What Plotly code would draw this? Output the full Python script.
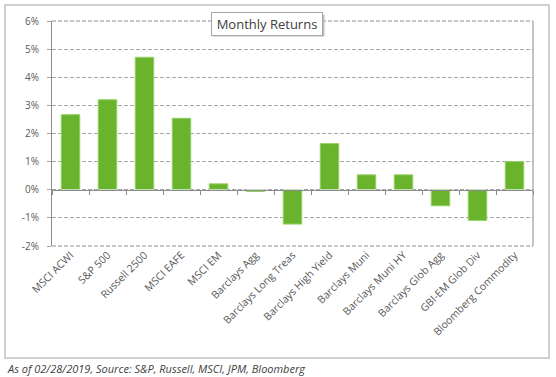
import plotly.graph_objects as go

categories = ["MSCI ACWI", "S&P 500", "Russell 2500", "MSCI EAFE", "MSCI EM",
              "Barclays Agg", "Barclays Long Treas", "Barclays High Yield",
              "Barclays Muni", "Barclays Muni HY", "Barclays Glob Agg",
              "GBI-EM Glob Div", "Bloomberg Commodity"]
returns_pct = [2.67, 3.20, 4.71, 2.54, 0.21, -0.06, -1.22, 1.64, 0.53, 0.53, -0.57, -1.09, 1.00]
y_ticks = [-2, -1, 0, 1, 2, 3, 4, 5, 6]
y_tick_labels = [f"{v}%" for v in y_ticks]

W, H = 556, 377
ml, mr, mt, mb = 52, 23, 21, 131
ymin, ymax = -2, 6
dom_w = W - ml - mr
dom_h = H - mt - mb
zero_pos = (0 - ymin) / (ymax - ymin)


def px_x(x):
    return (x - ml) / dom_w


def px_y(y):
    return (H - mb - y) / dom_h


fig = go.Figure()
fig.add_trace(go.Bar(
    x=categories, y=returns_pct,
    marker=dict(color="#6AB42D", line=dict(color="#93D164", width=1)),
    xaxis="x", yaxis="y", hoverinfo="x+y",
))
fig.add_trace(go.Bar(x=categories, y=[0] * len(categories), xaxis="x2", yaxis="y",
                     marker=dict(color="rgba(0,0,0,0)"), showlegend=False, hoverinfo="skip"))

txt = "#595959"
grid = "#A6A6A6"
fig.update_layout(
    width=W, height=H,
    margin=dict(l=ml, r=mr, t=mt, b=mb),
    paper_bgcolor="white", plot_bgcolor="white",
    showlegend=False, bargap=0.5, barmode="overlay",
    font=dict(family="Open Sans", size=10, color=txt),
    xaxis=dict(type="category", tickangle=-45, showgrid=False, showline=False,
               ticks="", tickfont=dict(size=10.5, color=txt), automargin=False,
               range=[-0.5, len(categories) - 0.5]),
    xaxis2=dict(type="category", overlaying="x", anchor="free", position=zero_pos,
                showline=True, linecolor="#8C8C8C", linewidth=1,
                ticks="outside", ticklen=4, tickcolor="#8C8C8C", tickson="boundaries",
                showticklabels=False, showgrid=False,
                range=[-0.5, len(categories) - 0.5]),
    yaxis=dict(range=[ymin, ymax], tickvals=y_ticks, ticktext=y_tick_labels,
               showgrid=True, gridcolor=grid, griddash="4px,2px", gridwidth=1,
               zeroline=False, showline=True, linecolor="#8C8C8C", linewidth=1,
               ticks="outside", ticklen=4, tickcolor=grid,
               ticklabelstandoff=6, tickfont=dict(size=10, color=txt),
               automargin=False),
)

# plot-area border
fig.add_shape(type="line", xref="x domain", yref="y domain", x0=1, x1=1, y0=0, y1=1,
              line=dict(color="#8C8C8C", width=1))
fig.add_shape(type="line", xref="x domain", yref="y domain", x0=0, x1=1, y0=1, y1=1,
              line=dict(color="#8C8C8C", width=1, dash="4px,2px"))
fig.add_shape(type="line", xref="x domain", yref="y domain", x0=0, x1=1, y0=0, y1=0,
              line=dict(color="#8C8C8C", width=1, dash="4px,2px"))

# outer chart frame
fig.add_shape(type="rect", xref="paper", yref="paper",
              x0=px_x(5), x1=px_x(549), y0=px_y(358), y1=px_y(5),
              line=dict(color="#D0D0D0", width=2), fillcolor="rgba(0,0,0,0)", layer="below")

# title box shadow + box
fig.add_shape(type="rect", xref="paper", yref="paper",
              x0=px_x(213), x1=px_x(324), y0=px_y(36), y1=px_y(15),
              line=dict(color="#BFBFBF", width=1), fillcolor="#BFBFBF", layer="above")
fig.add_annotation(xref="paper", yref="paper", x=px_x(266.5), y=px_y(24),
                   xanchor="center", yanchor="middle",
                   text="Monthly Returns", showarrow=False, width=106, height=18,
                   font=dict(family="Open Sans", size=13, color="#404040"),
                   bgcolor="white", bordercolor="#A6A6A6", borderwidth=1, borderpad=2)

# footer
fig.add_annotation(xref="paper", yref="paper", x=px_x(5), y=px_y(368),
                   xanchor="left", yanchor="middle", showarrow=False,
                   text="<i>As of 02/28/2019, Source: S&P, Russell, MSCI, JPM, Bloomberg</i>",
                   font=dict(family="Open Sans", size=11, color="#404040"))

fig.write_html("out.html", config={"displayModeBar": False},
               post_script="document.body.style.margin='0';document.body.style.padding='0';")
